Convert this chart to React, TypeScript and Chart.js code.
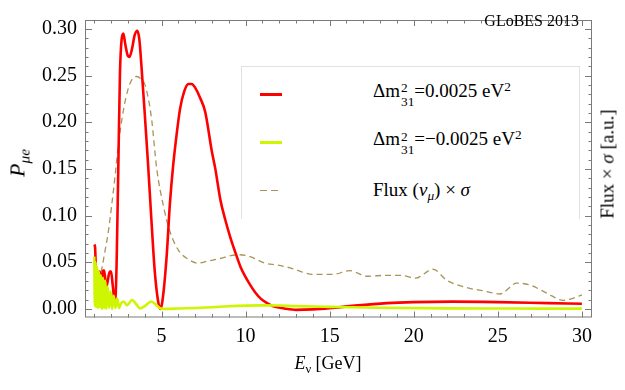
import React, { useEffect, useRef } from "react";
import { Chart, registerables } from "chart.js";
Chart.register(...registerables);

// Normal hierarchy: Δm²31 = +0.0025 eV²
const nhE = [1.0, 1.05, 1.09, 1.13, 1.18, 1.24, 1.32, 1.44, 1.52, 1.6, 1.7, 1.8, 1.92, 2.0, 2.1, 2.2, 2.26, 2.33, 2.43, 2.53, 2.63, 2.73, 2.85, 3.0, 3.1, 3.25, 3.4, 3.56, 3.68, 3.8, 4.0, 4.2, 4.4, 4.6, 4.8, 4.93, 5.05, 5.3, 5.5, 5.7, 5.9, 6.1, 6.35, 6.6, 6.8, 7.0, 7.3, 7.6, 8.0, 8.2, 8.5, 8.8, 9.1, 9.4, 9.7, 10.0, 10.3, 10.6, 10.9, 11.3, 11.6, 12.3, 13.0, 14.0, 15.0, 16.5, 18.4, 20.0, 22.3, 25.0, 28.0, 30.0];
const nhP = [0.069, 0.066, 0.042, 0.004, 0.04, 0.036, 0.04, 0.03, 0.041, 0.041, 0.022, 0.03, 0.04, 0.04, 0.025, 0.011, 0.012, 0.049, 0.151, 0.253, 0.289, 0.295, 0.283, 0.271, 0.27, 0.279, 0.293, 0.298, 0.289, 0.262, 0.21, 0.155, 0.095, 0.04, 0.008, 0.0, 0.008, 0.055, 0.113, 0.155, 0.187, 0.214, 0.233, 0.241, 0.241, 0.237, 0.226, 0.211, 0.168, 0.15, 0.117, 0.095, 0.076, 0.06, 0.045, 0.034, 0.025, 0.017, 0.011, 0.006, 0.003, 0.0005, -0.001, -0.0005, 0.0008, 0.0035, 0.0062, 0.0073, 0.0078, 0.0073, 0.0062, 0.0055];

// Inverted hierarchy: Δm²31 = -0.0025 eV²
const ihE = [1.0, 1.04, 1.08, 1.12, 1.17, 1.22, 1.27, 1.33, 1.39, 1.45, 1.51, 1.58, 1.65, 1.72, 1.8, 1.88, 1.97, 2.06, 2.16, 2.26, 2.37, 2.47, 2.6, 2.75, 2.95, 3.25, 3.5, 3.72, 4.0, 4.4, 4.7, 4.95, 5.3, 6.0, 7.0, 8.0, 9.0, 10.0, 11.0, 12.0, 13.0, 15.0, 18.0, 22.0, 26.0, 30.0];
const ihP = [0.056, 0.003, 0.05, 0.002, 0.045, 0.001, 0.04, 0.002, 0.036, 0.0, 0.033, 0.001, 0.03, 0.0, 0.024, 0.001, 0.019, 0.0, 0.014, 0.001, 0.011, 0.001, 0.006, 0.008, 0.004, 0.0095, 0.005, 0.0005, 0.003, 0.008, 0.004, 0.0005, 0.0, 0.0005, 0.001, 0.0018, 0.0028, 0.0035, 0.0038, 0.0036, 0.003, 0.0022, 0.0012, 0.0006, 0.0004, 0.0003];

// Flux(ν_μ) × σ, arbitrary units (drawn on the same frame)
const fluxE = [1.0, 1.2, 1.44, 1.64, 1.84, 2.03, 2.23, 2.43, 2.73, 3.02, 3.25, 3.52, 3.8, 4.02, 4.22, 4.42, 4.71, 5.11, 5.5, 6.0, 6.6, 7.19, 7.7, 8.48, 9.1, 9.67, 10.26, 11.16, 11.9, 12.64, 14.03, 15.2, 16.2, 17.2, 18.4, 19.2, 20.1, 21.15, 21.97, 23.15, 24.14, 25.13, 26.13, 26.92, 27.9, 28.9, 29.8, 30.0];
const fluxV = [0.008, 0.02, 0.042, 0.062, 0.083, 0.11, 0.141, 0.175, 0.2125, 0.236, 0.246, 0.249, 0.246, 0.24, 0.225, 0.202, 0.151, 0.1105, 0.083, 0.063, 0.053, 0.049, 0.051, 0.054, 0.057, 0.058, 0.056, 0.049, 0.047, 0.044, 0.037, 0.037, 0.041, 0.035, 0.036, 0.036, 0.033, 0.0425, 0.0306, 0.0228, 0.0194, 0.016, 0.0276, 0.0255, 0.017, 0.0092, 0.0136, 0.015];

const xTicks = [5, 10, 15, 20, 25, 30];
const yTicks = [0, 0.05, 0.1, 0.15, 0.2, 0.25, 0.3];

const SERIF = "Liberation Serif, serif";
Chart.defaults.font.family = SERIF;

const pts = (xs: number[], ys: number[]) => xs.map((x, i) => ({ x, y: ys[i] }));

const stack = (top: string, bottom: string) => (
  <span
    style={{
      display: "inline-flex",
      flexDirection: "column",
      fontSize: "0.7em",
      lineHeight: 1,
      verticalAlign: "0.35em",
      marginLeft: 1,
    }}
  >
    <span>{top}</span>
    <span>{bottom}</span>
  </span>
);

export default function App() {
  const ref = useRef<HTMLCanvasElement>(null);

  useEffect(() => {
    const framePlugin = {
      id: "frameTicks",
      afterDatasetsDraw(chart: any) {
        const { ctx, chartArea: a, scales } = chart;
        const xs = scales.x;
        const ys = scales.y;
        ctx.save();
        ctx.strokeStyle = "#7a7a7a";
        ctx.lineWidth = 1;
        ctx.strokeRect(a.left + 0.5, a.top + 0.5, a.right - a.left - 1, a.bottom - a.top - 1);
        ctx.beginPath();
        for (let v = 1; v <= 30; v++) {
          const px = Math.round(xs.getPixelForValue(v)) + 0.5;
          const len = v % 5 === 0 ? 6 : 3.5;
          ctx.moveTo(px, a.bottom);
          ctx.lineTo(px, a.bottom - len);
          ctx.moveTo(px, a.top);
          ctx.lineTo(px, a.top + len);
        }
        for (let k = 0; k <= 30; k++) {
          const v = k / 100;
          const py = Math.round(ys.getPixelForValue(v)) + 0.5;
          const len = k % 5 === 0 ? 7 : 3.5;
          ctx.moveTo(a.left, py);
          ctx.lineTo(a.left + len, py);
          ctx.moveTo(a.right, py);
          ctx.lineTo(a.right - len, py);
        }
        ctx.stroke();
        ctx.restore();
      },
    };

    const chart = new Chart(ref.current as HTMLCanvasElement, {
      type: "line",
      data: {
        datasets: [
          {
            label: "IH",
            data: pts(ihE, ihP),
            borderColor: "rgb(206,246,0)",
            borderWidth: 2.6,
            pointRadius: 0,
            cubicInterpolationMode: "monotone",
            order: 0,
          },
          {
            label: "NH",
            data: pts(nhE, nhP),
            borderColor: "rgb(255,0,0)",
            borderWidth: 2.6,
            pointRadius: 0,
            cubicInterpolationMode: "monotone",
            order: 1,
          },
          {
            label: "Flux",
            data: pts(fluxE, fluxV),
            borderColor: "rgb(168,148,88)",
            borderWidth: 1.3,
            borderDash: [6, 4],
            pointRadius: 0,
            cubicInterpolationMode: "monotone",
            order: 2,
          },
        ],
      },
      options: {
        animation: false,
        responsive: false,
        maintainAspectRatio: false,
        events: [],
        layout: { padding: { top: 5, right: 33, left: 0, bottom: 0 } },
        plugins: { legend: { display: false }, tooltip: { enabled: false } },
        scales: {
          x: {
            type: "linear",
            min: 0.45,
            max: 30.6,
            afterFit: (s: any) => {
              s.height = 72.5;
            },
            afterBuildTicks: (s: any) => {
              s.ticks = xTicks.map((v) => ({ value: v }));
            },
            ticks: {
              autoSkip: false,
              maxRotation: 0,
              padding: 7,
              color: "#000",
              font: { family: SERIF, size: 20 },
              callback: (v: any) => String(v),
            },
            grid: { display: false, drawTicks: false },
            border: { display: false },
          },
          y: {
            type: "linear",
            min: -0.0092,
            max: 0.3095,
            afterFit: (s: any) => {
              s.width = 85;
            },
            afterBuildTicks: (s: any) => {
              s.ticks = yTicks.map((v) => ({ value: v }));
            },
            ticks: {
              autoSkip: false,
              padding: 8,
              color: "#000",
              font: { family: SERIF, size: 20 },
              callback: (v: any) => Number(v).toFixed(2),
            },
            grid: { display: false, drawTicks: false },
            border: { display: false },
          },
        },
      },
      plugins: [framePlugin],
    });
    return () => chart.destroy();
  }, []);

  const txt: React.CSSProperties = {
    position: "absolute",
    fontFamily: SERIF,
    fontSize: 18,
    color: "#000",
    whiteSpace: "nowrap",
    lineHeight: 1,
  };

  const legendRow = (top: number, sample: React.ReactNode, label: React.ReactNode) => (
    <>
      <div style={{ position: "absolute", left: 260, top: top - 1.5, width: 22, height: 0 }}>{sample}</div>
      <div style={{ ...txt, fontSize: 19, left: 373, top: top, transform: "translateY(-50%)" }}>{label}</div>
    </>
  );

  return (
    <div style={{ position: "absolute", left: 0, top: 0, width: 625, height: 390, background: "#fff" }}>
      <canvas ref={ref} width={625} height={390} style={{ display: "block", width: 625, height: 390 }} />

      {/* legend */}
      <div
        style={{
          position: "absolute",
          left: 241,
          top: 66,
          width: 337,
          height: 152,
          background: "#fff",
          border: "1px solid #e2e2e2",
          borderBottom: "none",
        }}
      />
      {legendRow(
        94,
        <div style={{ width: 22, height: 3, background: "rgb(255,0,0)" }} />,
        <span>
          Δm{stack("2", "31")}=0.0025 eV<sup style={{ fontSize: "0.7em", verticalAlign: "0.45em" }}>2</sup>
        </span>
      )}
      {legendRow(
        142.5,
        <div style={{ width: 22, height: 3, background: "rgb(206,246,0)" }} />,
        <span>
          Δm{stack("2", "31")}=−0.0025 eV<sup style={{ fontSize: "0.7em", verticalAlign: "0.45em" }}>2</sup>
        </span>
      )}
      {legendRow(
        191,
        <div style={{ display: "flex", gap: 4, width: 22 }}>
          <div style={{ width: 7, height: 1.4, background: "rgb(168,148,88)" }} />
          <div style={{ width: 7, height: 1.4, background: "rgb(168,148,88)" }} />
        </div>,
        <span>
          Flux (<i>ν</i>
          <sub style={{ fontSize: "0.7em", verticalAlign: "-0.3em" }}>
            <i>μ</i>
          </sub>
          ) × <i>σ</i>
        </span>
      )}

      {/* GLoBES label */}
      <div style={{ ...txt, fontSize: 16, right: 625 - 579, top: 13 }}>GLoBES 2013</div>

      {/* axis titles */}
      <div style={{ ...txt, left: 328, top: 365, transform: "translate(-50%,-50%)" }}>
        <i>E</i>
        <sub style={{ fontSize: "0.7em", verticalAlign: "-0.35em" }}>ν</sub> [GeV]
      </div>
      <div style={{ ...txt, fontSize: 22, left: 19, top: 163, transform: "translate(-50%,-50%) rotate(-90deg)" }}>
        <i>P</i>
        <sub style={{ fontSize: "0.7em", verticalAlign: "-0.3em" }}>
          <i>μe</i>
        </sub>
      </div>
      <div style={{ ...txt, fontSize: 19, left: 607, top: 164, transform: "translate(-50%,-50%) rotate(-90deg)" }}>
        Flux × <i>σ</i> [a.u.]
      </div>
    </div>
  );
}
